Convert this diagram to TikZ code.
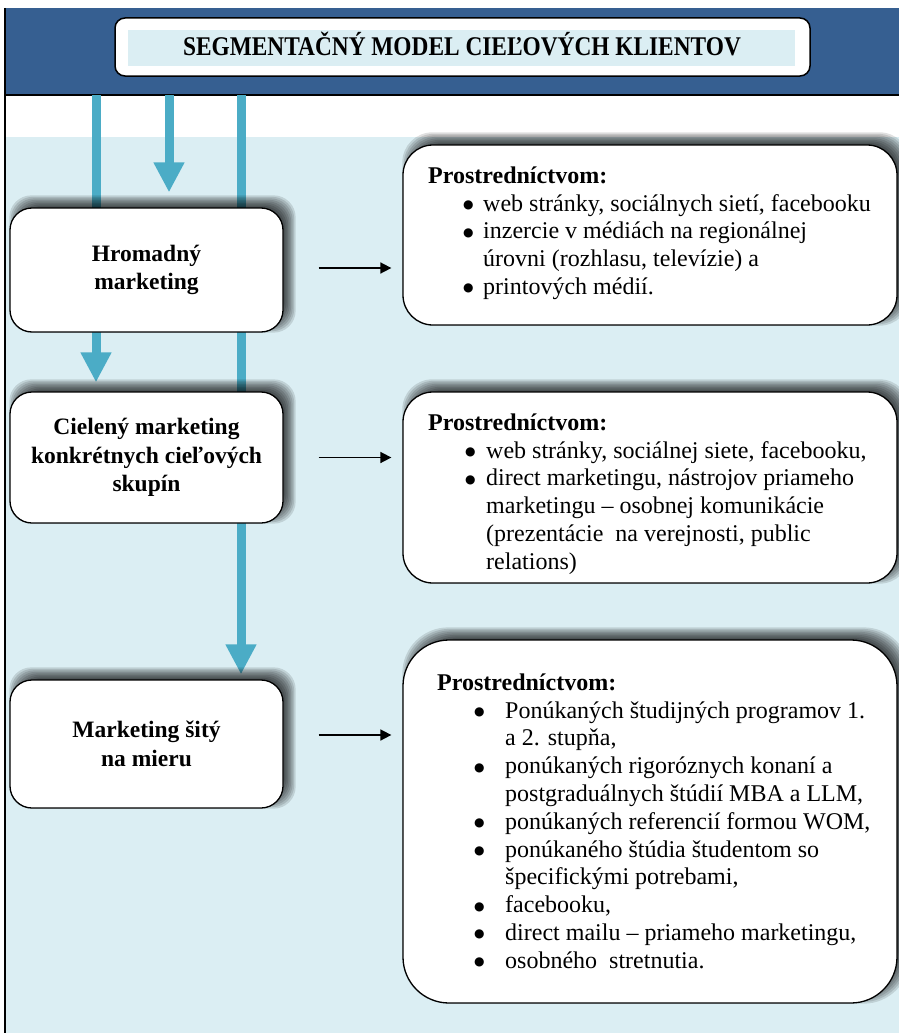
\documentclass[tikz,border=0pt]{standalone}
\usepackage{fontspec}
\setmainfont{Liberation Serif}
\newfontfamily\titlefont[FakeStretch=0.865]{Liberation Serif}
\newfontfamily\dejavu{DejaVu Sans}
\usetikzlibrary{arrows.meta}
\definecolor{hdrblue}{HTML}{365F91}
\definecolor{aqua}{HTML}{4BACC6}
\definecolor{paleaqua}{HTML}{DBEEF3}
\pgfdeclarelayer{back}
\pgfdeclarelayer{flow}
\pgfdeclarelayer{shade}
\pgfsetlayers{back,flow,shade,main}
\newcommand\mybullet{{\dejavu\fontsize{12}{12}\selectfont\raisebox{2.5pt}{●}}}
\newcommand\blA{\makebox[20pt][l]{\mybullet}}
\newcommand\blB{\makebox[21pt][l]{\mybullet}}
\newcommand\blC{\makebox[31pt][l]{\mybullet}}
\newcommand\indA{\hspace*{20pt}}
\newcommand\indB{\hspace*{21pt}}
\newcommand\indC{\hspace*{31pt}}
\newcommand\shadowof[2]{%
  \begin{pgfonlayer}{shade}
    \foreach \e in {-6,-4.5,...,6}{
      \fill[black, opacity=0.12, rounded corners=#2]
        ([xshift={(6-\e)*1pt}, yshift={(6-\e)*1pt}]#1.south west) rectangle
        ([xshift={(6+\e)*1pt}, yshift={(6+\e)*1pt}]#1.north east);
    }
  \end{pgfonlayer}}
\begin{document}
\begin{tikzpicture}[x=1pt,y=-1pt,
  leftbox/.style={draw=black, line width=1.3pt, fill=white, rounded corners=22pt,
    minimum width=273pt, inner sep=0pt, align=center,
    font=\fontsize{23.5}{28.5}\selectfont\bfseries},
  rightbox/.style={draw=black, line width=1.3pt, fill=white, rounded corners=30pt,
    minimum width=494pt, inner sep=0pt},
  hdtext/.style={inner sep=0pt, anchor=base west, font=\fontsize{24}{28}\selectfont\bfseries},
  listtext/.style={inner sep=0pt, anchor=base west, font=\fontsize{24}{27.8}\selectfont},
  flowline/.style={draw=aqua, line width=9pt, -{Triangle[width=29pt,length=30pt]}},
  linkarrow/.style={draw=black, line width=1.7pt, -{Triangle[width=11pt,length=11pt]}}]

\useasboundingbox (0,0) rectangle (899,1033);

\begin{pgfonlayer}{back}
  \fill[white] (0,0) rectangle (899,1033);
  \fill[hdrblue] (5,8) rectangle (899,95);
  \fill[paleaqua] (5,137) rectangle (899,1033);
  \draw[black, line width=1.2pt] (5,95) -- (899,95);
  \draw[black, line width=1.5pt] (5,8) -- (5,1033);
\end{pgfonlayer}

% title
\node[draw=black, line width=1.5pt, fill=white, rounded corners=10pt,
      minimum width=695pt, minimum height=58pt, inner sep=0pt] (title) at (462.5,47) {};
\node[fill=paleaqua, minimum width=667pt, minimum height=36pt, inner sep=0pt] (titlein) at (461.5,48.5) {};
\node[inner sep=0pt, anchor=base, font=\titlefont\bfseries\fontsize{27}{30}\selectfont] (titletext) at (462,56)
  {SEGMENTAČNÝ MODEL CIEĽOVÝCH KLIENTOV};

% left boxes
\node[leftbox, minimum height=124pt] (b1) at (146.5,270) {Hromadný\\marketing};
\node[leftbox, minimum height=131pt] (b2) at (146.5,457.5) {Cielený marketing\\konkrétnych cieľových\\skupín};
\node[leftbox, minimum height=128pt] (b3) at (146.5,744) {Marketing šitý\\na mieru};
\shadowof{b1}{22pt}
\shadowof{b2}{22pt}
\shadowof{b3}{22pt}

% right boxes
\node[rightbox, minimum height=180pt] (r1) at (650,235) {};
\node[rightbox, minimum height=191pt] (r2) at (650,487.5) {};
\node[rightbox, minimum height=363pt, rounded corners=46pt] (r3) at (650,821.5) {};
\shadowof{r1}{30pt}
\shadowof{r2}{30pt}
\shadowof{r3}{46pt}

% texts of right boxes
\node[hdtext] (r1h) at (428,183) {Prostredníctvom:};
\node[listtext] (r1l) at (463,211) {\begin{tabular}[t]{@{}l@{}}
\blA web stránky, sociálnych sietí, facebooku\\
\blA inzercie v médiách na regionálnej\\
\indA úrovni (rozhlasu, televízie) a\\
\blA printových médií.
\end{tabular}};

\node[hdtext] (r2h) at (428,430) {Prostredníctvom:};
\node[listtext] (r2l) at (465,458) {\begin{tabular}[t]{@{}l@{}}
\blB web stránky, sociálnej siete, facebooku,\\
\blB direct marketingu, nástrojov priameho\\
\indB marketingu – osobnej komunikácie\\
\indB (prezentácie\ \ na verejnosti, public\\
\indB relations)
\end{tabular}};

\node[hdtext] (r3h) at (437,690) {Prostredníctvom:};
\node[listtext] (r3l) at (474,718) {\begin{tabular}[t]{@{}l@{}}
\blC Ponúkaných študijných programov 1.\\
\indC a 2. stupňa,\\
\blC ponúkaných rigoróznych konaní a\\
\indC postgraduálnych štúdií MBA a LLM,\\
\blC ponúkaných referencií formou WOM,\\
\blC ponúkaného štúdia študentom so\\
\indC špecifickými potrebami,\\
\blC facebooku,\\
\blC direct mailu – priameho marketingu,\\
\blC osobného\ \ stretnutia.
\end{tabular}};

% flow coordinates at the header
\coordinate (h1) at (96,95);
\coordinate (h2) at (169,95);
\coordinate (h3) at (241,95);

\begin{pgfonlayer}{flow}
  \draw[flowline, shorten >=9pt] (h1) -- (h1 |- b2.north);
  \draw[flowline, shorten >=15pt] (h2) -- (h2 |- b1.north);
  \draw[flowline, shorten >=5pt] (h3) -- (h3 |- b3.north);
\end{pgfonlayer}

% link arrows
\draw[linkarrow, shorten <=35pt, shorten >=11pt] ([yshift=2pt]b1.east) -- ([yshift=2pt]b1.east -| r1.west);
\draw[linkarrow, shorten <=35pt, shorten >=11pt] (b2.east) -- (b2.east -| r2.west);
\draw[linkarrow, shorten <=35pt, shorten >=11pt] ([yshift=9pt]b3.east) -- ([yshift=9pt]b3.east -| r3.west);

\end{tikzpicture}
\end{document}
